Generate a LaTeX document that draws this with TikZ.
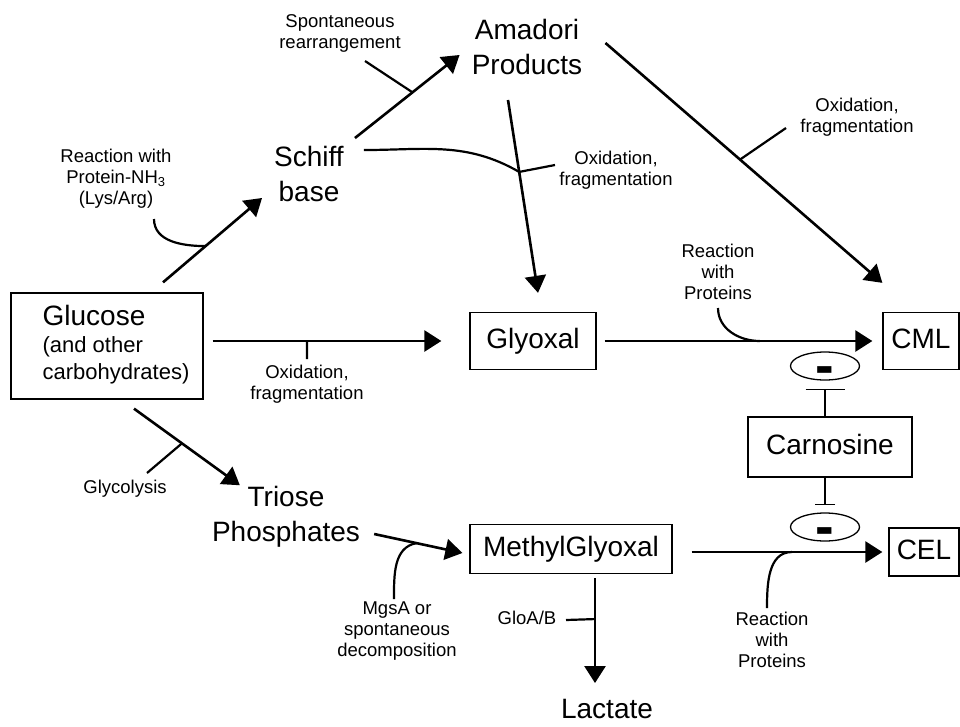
\documentclass[tikz,border=0pt]{standalone}
\usepackage{fontspec}
\setmainfont{Liberation Sans}
\usetikzlibrary{arrows.meta, shapes.geometric}

\newcommand{\spfont}{\fontsize{28}{35}\selectfont}
\newcommand{\lblfont}{\fontsize{18.5}{21}\selectfont}

\begin{document}
\begin{tikzpicture}[
    x=1pt, y=-1pt,
    box/.style={rectangle, draw, line width=1.3pt, inner sep=0pt, font=\spfont},
    tag/.style={box, text height=20pt, text depth=6pt},
    species/.style={align=center, inner sep=0pt, font=\spfont},
    note/.style={align=center, inner sep=0pt, font=\lblfont},
    minus/.style={ellipse, draw, line width=1.3pt, minimum width=69pt, minimum height=28pt, inner sep=0pt, font=\fontsize{56}{56}\selectfont\bfseries},
    arrow/.style={-{Triangle[length=17pt,width=21pt]}, line width=2.6pt},
    branch/.style={line width=2.2pt},
    block/.style={line width=1.3pt}
]
\useasboundingbox (0,0) rectangle (960,726);

% compounds
\node[box, minimum width=192pt, minimum height=106pt, font=\fontsize{22}{27}\selectfont] (glucose) at (107,346)
    {\hspace*{18pt}\begin{tabular}{@{}l@{}}\spfont Glucose\\(and other\\carbohydrates)\end{tabular}};
\node[species] (schiff) at (309,174) {Schiff\\base};
\node[species] (amadori) at (527,47) {Amadori\\Products};
\node[tag, minimum width=126pt, minimum height=57pt] (glyoxal) at (533,341) {Glyoxal};
\node[tag, minimum width=76pt, minimum height=57pt] (cml) at (921,341) {CML};
\node[tag, minimum width=164pt, minimum height=60pt] (carnosine) at (830,447) {Carnosine};
\node[species] (triose) at (286,517) {Triose\\Phosphates};
\node[tag, minimum width=202pt, minimum height=49pt] (methyl) at (571,549) {MethylGlyoxal};
\node[tag, minimum width=70pt, minimum height=48pt] (cel) at (924,552) {CEL};
\node[species] (lactate) at (607,709) {Lactate};
\node[minus] (inh1) at (825,366) {\raisebox{-18pt}[0pt][0pt]{-}};
\node[minus] (inh2) at (825,527) {\raisebox{-18pt}[0pt][0pt]{-}};

% reaction notes
\node[note] (nh3) at (116,179) {Reaction with\\Protein-NH\textsubscript{3}\\(Lys/Arg)};
\node[note] (spont) at (340,33) {Spontaneous\\rearrangement};
\node[note] (oxid1) at (616,170) {Oxidation,\\fragmentation};
\node[note] (oxid2) at (857,117) {Oxidation,\\fragmentation};
\node[note] (oxid3) at (307,384) {Oxidation,\\fragmentation};
\node[note] (prot1) at (718,272) {Reaction\\with\\Proteins};
\node[note] (glyco) at (125,489) {Glycolysis};
\node[note] (mgsa) at (397,631) {MgsA or\\spontaneous\\decomposition};
\node[note] (prot2) at (772,640) {Reaction\\with\\Proteins};
\node[note] (gloab) at (527,618) {GloA/B};

% free ends of the side branches
\coordinate (c1) at (154,219);
\coordinate (c2) at (365,61);
\coordinate (c4) at (555,165);
\coordinate (c5) at (786,128);
\coordinate (c6) at (307,359);
\coordinate (c7) at (718,308);
\coordinate (c8) at (147,473);
\coordinate (c9) at (394,599);
\coordinate (c10) at (767,608);
\coordinate (c11) at (566,620);

% main arrows
\draw[arrow] ([shift={(56,-10)}]glucose.north) -- coordinate[pos=0.43] (a1) ([shift={(-12,-4)}]schiff.south west);
\draw[arrow] ([shift={(11,-8)}]schiff.north east) -- coordinate[pos=0.55] (a2) ([shift={(-12,-20)}]amadori.south west);
\draw[arrow] ([shift={(-19,25)}]amadori.south) -- coordinate[pos=0.373] (a4) ([shift={(5,-19)}]glyoxal.north);
\draw[arrow] ([shift={(23,-4)}]amadori.east) -- coordinate[pos=0.486] (a5) ([shift={(0,-29)}]cml.north west);
\draw[arrow] ([shift={(9,-5)}]glucose.east) -- coordinate[pos=0.413] (a6) ([xshift=-28pt]glyoxal.west);
\draw[arrow] ([xshift=8pt]glyoxal.east) -- coordinate[pos=0.58] (a7) ([xshift=-10pt]cml.west);
\draw[arrow] ([shift={(27,9)}]glucose.south) -- coordinate[pos=0.453] (a8) ([shift={(28,-1)}]triose.north west);
\draw[arrow] ([shift={(14,17)}]triose.east) -- coordinate[pos=0.48] (a9) ([shift={(-7,4)}]methyl.west);
\draw[arrow] ([shift={(19,3)}]methyl.east) -- coordinate[pos=0.526] (a10) ([xshift=-6pt]cel.west);
\draw[arrow] ([shift={(24,4)}]methyl.south) -- coordinate[pos=0.39] (a11) ([shift={(-12,-16)}]lactate.north);

% side branches
\draw[branch] (c1) to[out=-90, in=180] (a1);
\draw[branch] (c2) -- (a2);
\draw[branch] ([shift={(20,4)}]schiff.north east) to[out=0, in=150] (a4);
\draw[branch] (a4) -- (c4);
\draw[branch] (a5) -- (c5);
\draw[branch] (a6) -- (c6);
\draw[branch] (c7) to[out=-90, in=180] (a7);
\draw[branch] (c8) -- (a8);
\draw[branch] (c9) to[out=90, in=190] (a9);
\draw[branch] (c10) to[out=90, in=180] (a10);
\draw[branch] (c11) -- (a11);

% carnosine blocks
\draw[block, -{Bar[width=39pt]}] (carnosine.north -| inh1) -- ([yshift=-8pt]inh1.south);
\draw[block, -{Bar[width=20pt]}] (carnosine.south -| inh2) -- ([yshift=7pt]inh2.north);
\end{tikzpicture}
\end{document}
